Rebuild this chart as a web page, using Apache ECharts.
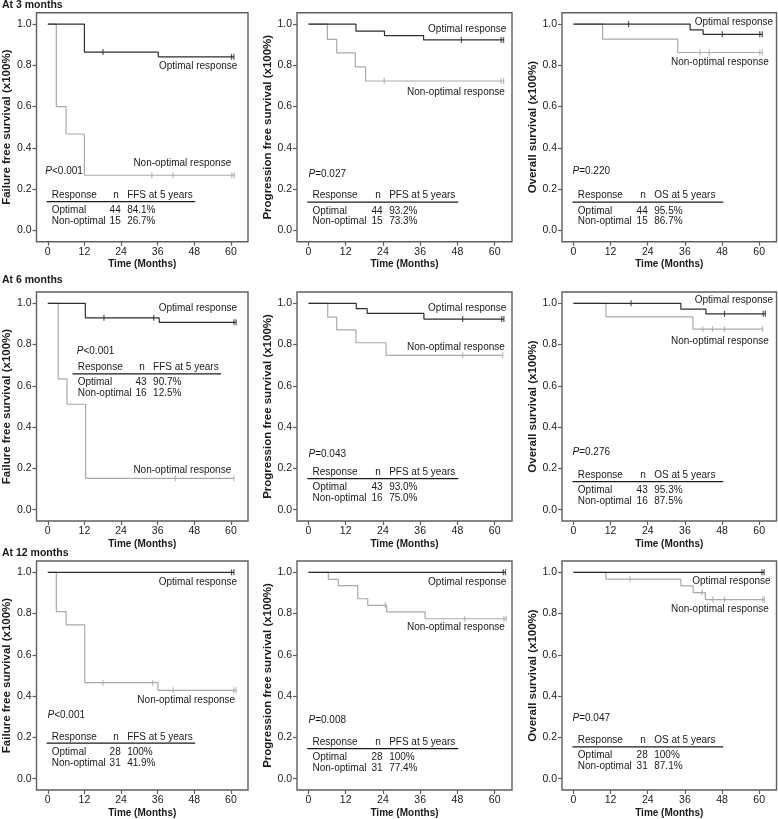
<!DOCTYPE html>
<html><head><meta charset="utf-8">
<script src="https://cdn.jsdelivr.net/npm/echarts@6/dist/echarts.min.js"></script>
<style>html,body{margin:0;padding:0;background:#fff}#c{width:778px;height:819px}</style>
</head><body><div id="c"></div>
<script>
// ---------- data ----------
const xTicks = [0, 12, 24, 36, 48, 60];
const yTicks = [0, 0.2, 0.4, 0.6, 0.8, 1.0];
const rowTitles = ['At 3 months', 'At 6 months', 'At 12 months'];
const yNames = ['Failure free survival (x100%)', 'Progression free survival (x100%)', 'Overall survival (x100%)'];
const endpoints = ['FFS', 'PFS', 'OS'];
const groupLabels = ['Optimal response', 'Non-optimal response'];
const tableRowNames = ['Optimal', 'Non-optimal'];
const tableHeader = ['Response', 'n', 'at 5 years'];
const xName = 'Time (Months)';

// Kaplan-Meier curves: [month, survival] at each step
const ffs3Opt = [[0,1],[12,0.864],[36.2,0.841],[61.0,0.841]];
const ffs3OptCens = [18.1, 60.2, 61.0];
const ffs3Non = [[0,1],[2.8,0.600],[6.0,0.467],[12,0.267],[61.3,0.267]];
const ffs3NonCens = [34.1, 41.0, 60.3, 61.1];

const pfs3Opt = [[0,1],[15.3,0.966],[24.5,0.944],[37.1,0.923],[63.0,0.923]];
const pfs3OptCens = [49.3, 62.1, 62.9];
const pfs3Non = [[0,1],[6.1,0.926],[9.1,0.860],[15.1,0.792],[18.4,0.724],[63.0,0.724]];
const pfs3NonCens = [24.4, 62.1, 62.9];

const os3Opt = [[0,1],[37.7,0.972],[41.9,0.950],[61.0,0.950]];
const os3OptCens = [17.8, 48.1, 60.2, 61.0];
const os3Non = [[0,1],[9.4,0.927],[33.7,0.862],[61.0,0.862]];
const os3NonCens = [40.9, 43.9, 60.2, 61.0];

const ffs6Opt = [[0,1],[12.3,0.930],[36.5,0.908],[61.7,0.908]];
const ffs6OptCens = [18.4, 34.7, 61.0, 61.7];
const ffs6Non = [[0,1],[3.4,0.634],[6.3,0.511],[12.4,0.152],[61.0,0.152]];
const ffs6NonCens = [41.8, 61.0];

const pfs6Opt = [[0,1],[15.4,0.974],[18.9,0.951],[37.2,0.924],[63.0,0.924]];
const pfs6OptCens = [49.7, 62.3, 63.0];
const pfs6Non = [[0,1],[6.2,0.933],[9.1,0.871],[15.3,0.809],[25.0,0.748],[62.6,0.748]];
const pfs6NonCens = [49.7, 62.6];

const os6Opt = [[0,1],[34.7,0.972],[42.8,0.949],[62.0,0.949]];
const os6OptCens = [18.6, 48.8, 61.3, 62.0];
const os6Non = [[0,1],[10.5,0.934],[38.6,0.875],[61.1,0.875]];
const os6NonCens = [41.8, 44.9, 48.8, 61.1];

const ffs12Opt = [[0,1],[61.0,1]];
const ffs12OptCens = [60.2, 61.0];
const ffs12Non = [[0,1],[2.8,0.810],[6.0,0.745],[12.1,0.465],[36.1,0.428],[61.7,0.428]];
const ffs12NonCens = [18.1, 34.4, 41.1, 61.0, 61.7];

const pfs12Opt = [[0,1],[63.5,1]];
const pfs12OptCens = [62.8, 63.5];
const pfs12Non = [[0,1],[6.4,0.966],[9.6,0.936],[15.9,0.872],[19.1,0.840],[25.2,0.808],[37.6,0.775],[63.75,0.775]];
const pfs12NonCens = [24.75, 50.4, 63.0, 63.75];

const os12Opt = [[0,1],[61.6,1]];
const os12OptCens = [60.9, 61.6];
const os12Non = [[0,1],[10.5,0.967],[34.7,0.934],[38.7,0.902],[42.6,0.868],[61.7,0.868]];
const os12NonCens = [18.3, 41.5, 45.0, 48.8, 61.1, 61.7];

// table contents
const nOptimal = [[44,44,44],[43,43,43],[28,28,28]];
const nNonOptimal = [[15,15,15],[16,16,16],[31,31,31]];
const pctOptimal = [['84.1%','93.2%','95.5%'],['90.7%','93.0%','95.3%'],['100%','100%','100%']];
const pctNonOptimal = [['26.7%','73.3%','86.7%'],['12.5%','75.0%','87.5%'],['41.9%','77.4%','87.1%']];
const pSign = [['<','=','='],['<','=','='],['<','=','=']];
const pValue = [['0.001','0.027','0.220'],['0.001','0.043','0.276'],['0.001','0.008','0.047']];

const curves = [
  [ffs3Opt, ffs3OptCens, ffs3Non, ffs3NonCens],
  [pfs3Opt, pfs3OptCens, pfs3Non, pfs3NonCens],
  [os3Opt, os3OptCens, os3Non, os3NonCens],
  [ffs6Opt, ffs6OptCens, ffs6Non, ffs6NonCens],
  [pfs6Opt, pfs6OptCens, pfs6Non, pfs6NonCens],
  [os6Opt, os6OptCens, os6Non, os6NonCens],
  [ffs12Opt, ffs12OptCens, ffs12Non, ffs12NonCens],
  [pfs12Opt, pfs12OptCens, pfs12Non, pfs12NonCens],
  [os12Opt, os12OptCens, os12Non, os12NonCens]
];

// ---------- layout (positions in data units of each panel) ----------
const layout = [
  {opt:[62.1,0.797], non:[60.1,0.323], p:[-0.8,0.286], tab:[-0.4,0.170]},
  {opt:[63.8,0.976], non:[63.3,0.669], p:[0.0,0.271], tab:[-0.4,0.168]},
  {opt:[64.5,1.011], non:[63.1,0.814], p:[-0.3,0.286], tab:[-0.3,0.168]},
  {opt:[62.0,0.976], non:[60.1,0.193], p:[9.5,0.769], tab:[8.1,0.689]},
  {opt:[63.8,0.976], non:[63.3,0.788], p:[0.0,0.270], tab:[-0.4,0.181]},
  {opt:[64.5,1.013], non:[63.1,0.814], p:[-0.3,0.278], tab:[-0.3,0.167]},
  {opt:[62.0,0.950], non:[61.4,0.382], p:[-0.1,0.308], tab:[-0.4,0.203]},
  {opt:[63.8,0.950], non:[63.3,0.733], p:[0.0,0.283], tab:[-0.4,0.177]},
  {opt:[63.7,0.958], non:[63.1,0.823], p:[-0.3,0.291], tab:[-0.3,0.185]}
];
const colLeft = [32, 297, 562], colWidth = [216, 215, 214.5];
const rowTop = [12.7, 292, 561], rowHeight = 229;
const titleY = [5, 280.5, 553];
const FONT = '"Liberation Sans", Arial, Helvetica, sans-serif';
const C_OPT = '#2e2e2e', C_NON = '#a9a9a9', C_FRAME = '#5f5f5f', C_TEXT = '#1a1a1a';

function survAt(curve, t) {
  let v = curve[0][1];
  for (const p of curve) { if (p[0] <= t) v = p[1]; }
  return v;
}

const grids = [], xAxes = [], yAxes = [], series = [];
for (let r = 0; r < 3; r++) {
  for (let c = 0; c < 3; c++) {
    const i = r * 3 + c;
    grids.push({left: colLeft[c], top: rowTop[r], width: colWidth[c], height: rowHeight,
      show: true, borderColor: C_FRAME, borderWidth: 1.4, backgroundColor: 'transparent'});
    xAxes.push({type: 'value', gridIndex: i, min: -3.7, max: 65.6, position: 'bottom',
      axisLine: {show: false, onZero: false}, splitLine: {show: false},
      axisTick: {show: true, customValues: xTicks, length: 4, lineStyle: {color: C_FRAME, width: 1.2}},
      axisLabel: {customValues: xTicks, fontSize: 10.5, color: C_TEXT, fontFamily: FONT, margin: 5},
      name: xName, nameLocation: 'middle', nameGap: 18,
      nameTextStyle: {fontSize: 10, fontWeight: 'bold', color: C_TEXT, fontFamily: FONT}});
    yAxes.push({type: 'value', gridIndex: i, min: -0.055, max: 1.055, position: 'left',
      axisLine: {show: false, onZero: false}, splitLine: {show: false},
      axisTick: {show: true, customValues: yTicks, length: 4, lineStyle: {color: C_FRAME, width: 1.2}},
      axisLabel: {customValues: yTicks, fontSize: 10.5, color: C_TEXT, fontFamily: FONT, margin: 5,
        formatter: v => v.toFixed(1)},
      name: yNames[c], nameLocation: 'middle', nameGap: 18.5,
      nameTextStyle: {fontSize: 11.5, fontWeight: 'bold', color: C_TEXT, fontFamily: FONT}});
    const [opt, optC, non, nonC] = curves[i];
    const pairs = [[non, nonC, C_NON], [opt, optC, C_OPT]];
    for (const [cv, cens, col] of pairs) {
      series.push({type: 'line', xAxisIndex: i, yAxisIndex: i, data: cv, step: 'end',
        symbol: 'none', silent: true, animation: false,
        lineStyle: {color: col, width: 1.2}});
      series.push({type: 'scatter', xAxisIndex: i, yAxisIndex: i,
        data: cens.map(t => [t, survAt(cv, t)]), symbol: 'rect', symbolSize: [1.2, 6],
        silent: true, animation: false, itemStyle: {color: col}});
    }
  }
}

const chart = echarts.init(document.getElementById('c'), null, {renderer: 'canvas'});
chart.setOption({animation: false, grid: grids, xAxis: xAxes, yAxis: yAxes, series: series});

// ---------- annotations ----------
const graphics = [];
function txt(x, y, text, opts) {
  graphics.push(Object.assign({type: 'text', x: x, y: y, silent: true,
    style: Object.assign({text: text, fontSize: 10, fontFamily: FONT, fill: C_TEXT,
      align: 'left', verticalAlign: 'middle'}, opts || {})}));
}
for (let r = 0; r < 3; r++) {
  txt(2, titleY[r], rowTitles[r], {fontWeight: 'bold', fontSize: 10.5});
  for (let c = 0; c < 3; c++) {
    const i = r * 3 + c, L = layout[i];
    const px = (x, y) => chart.convertToPixel({gridIndex: i}, [x, y]);
    let p = px(L.opt[0], L.opt[1]); txt(p[0], p[1], groupLabels[0], {align: 'right'});
    p = px(L.non[0], L.non[1]); txt(p[0], p[1], groupLabels[1], {align: 'right'});
    p = px(L.p[0], L.p[1]);
    txt(p[0], p[1], '{i|P}' + pSign[r][c] + pValue[r][c],
      {rich: {i: {fontStyle: 'italic', fontSize: 10, fontFamily: FONT, fill: C_TEXT}}});
    const bx = L.tab[0], by = L.tab[1];
    const hdr = px(bx, by), ul = px(bx, by - 0.031), r1 = px(bx, by - 0.073), r2 = px(bx, by - 0.126);
    const cx = off => px(bx + off, by)[0];
    txt(cx(1.7), hdr[1], tableHeader[0]);
    txt(cx(22.8), hdr[1], tableHeader[1], {align: 'center'});
    txt(cx(26.4), hdr[1], endpoints[c] + ' ' + tableHeader[2]);
    graphics.push({type: 'line', silent: true,
      shape: {x1: ul[0], y1: ul[1], x2: cx(48.7), y2: ul[1]},
      style: {stroke: C_TEXT, lineWidth: 1.2}});
    txt(cx(1.7), r1[1], tableRowNames[0]);
    txt(cx(24.3), r1[1], String(nOptimal[r][c]), {align: 'right'});
    txt(cx(26.4), r1[1], pctOptimal[r][c]);
    txt(cx(1.7), r2[1], tableRowNames[1]);
    txt(cx(24.3), r2[1], String(nNonOptimal[r][c]), {align: 'right'});
    txt(cx(26.4), r2[1], pctNonOptimal[r][c]);
  }
}
chart.setOption({graphic: graphics});
</script></body></html>
